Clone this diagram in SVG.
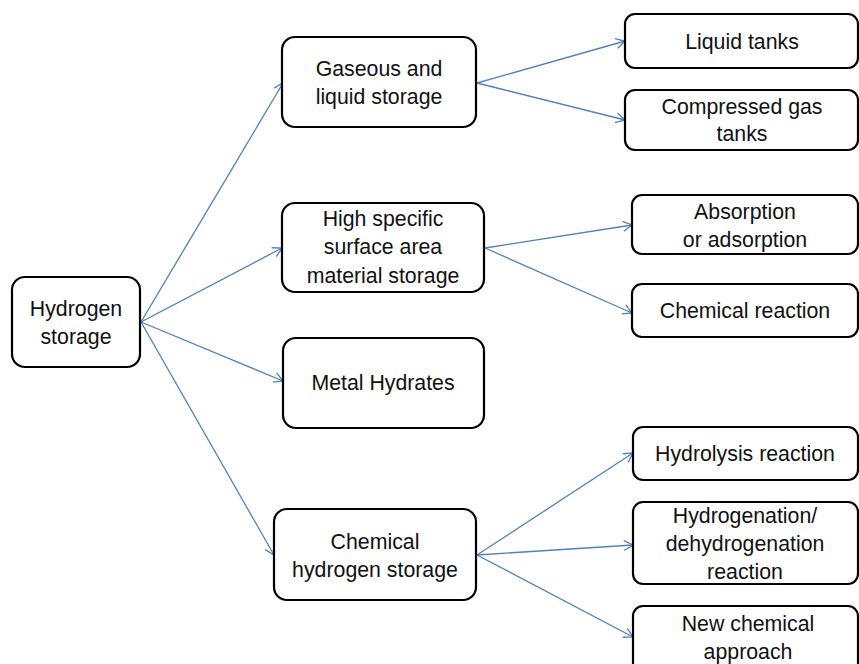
<svg xmlns="http://www.w3.org/2000/svg" width="859" height="664" viewBox="0 0 859 664">
<defs>
<marker id="ah" markerWidth="12" markerHeight="12" refX="10" refY="6" orient="auto" markerUnits="userSpaceOnUse">
<path d="M1,1 L10,6 L1,11" fill="none" stroke="#4F81BD" stroke-width="1.3"/>
</marker>
<style>
.box{fill:#fff;stroke:#000;stroke-width:2.2}
.t{font-family:"Liberation Sans",Arial,sans-serif;font-size:21.3px;fill:#111;text-anchor:middle}
.c{fill:none;stroke:#4F81BD;stroke-width:1.3;marker-end:url(#ah)}
</style>
</defs>
<rect width="859" height="664" fill="#fff"/>
<g id="connectors">
<line class="c" x1="141" y1="322" x2="283" y2="83"/>
<line class="c" x1="141" y1="322" x2="282" y2="248"/>
<line class="c" x1="141" y1="322" x2="283" y2="381"/>
<line class="c" x1="141" y1="322" x2="274" y2="555"/>
<line class="c" x1="477" y1="83" x2="625" y2="41"/>
<line class="c" x1="477" y1="83" x2="625" y2="120"/>
<line class="c" x1="485" y1="248" x2="632" y2="225"/>
<line class="c" x1="485" y1="248" x2="632" y2="313"/>
<line class="c" x1="477" y1="555" x2="633" y2="453"/>
<line class="c" x1="477" y1="555" x2="633" y2="545"/>
<line class="c" x1="477" y1="555" x2="633" y2="637"/>
</g>
<g id="hydrogen-storage">
<rect class="box" x="12" y="277" width="128" height="90" rx="13"/>
<text class="t" x="76" y="316">Hydrogen</text>
<text class="t" x="76" y="344">storage</text>
</g>
<g id="gaseous-liquid">
<rect class="box" x="282" y="37" width="194" height="90" rx="13"/>
<text class="t" x="379" y="76">Gaseous and</text>
<text class="t" x="379" y="104">liquid storage</text>
</g>
<g id="liquid-tanks">
<rect class="box" x="625" y="14" width="233" height="54" rx="10"/>
<text class="t" x="742" y="49">Liquid tanks</text>
</g>
<g id="compressed-gas">
<rect class="box" x="625" y="90" width="233" height="60" rx="10"/>
<text class="t" x="742" y="114">Compressed gas</text>
<text class="t" x="742" y="141">tanks</text>
</g>
<g id="high-specific">
<rect class="box" x="282" y="203" width="202" height="89" rx="13"/>
<text class="t" x="383" y="226">High specific</text>
<text class="t" x="383" y="254">surface area</text>
<text class="t" x="383" y="283">material storage</text>
</g>
<g id="absorption">
<rect class="box" x="632" y="195" width="226" height="59" rx="10"/>
<text class="t" x="745" y="219">Absorption</text>
<text class="t" x="745" y="247">or adsorption</text>
</g>
<g id="chemical-reaction">
<rect class="box" x="632" y="284" width="226" height="53" rx="10"/>
<text class="t" x="745" y="318">Chemical reaction</text>
</g>
<g id="metal-hydrates">
<rect class="box" x="283" y="338" width="201" height="90" rx="13"/>
<text class="t" x="383" y="390">Metal Hydrates</text>
</g>
<g id="chemical-hydrogen-storage">
<rect class="box" x="274" y="509" width="202" height="91" rx="13"/>
<text class="t" x="375" y="549">Chemical</text>
<text class="t" x="375" y="577">hydrogen storage</text>
</g>
<g id="hydrolysis">
<rect class="box" x="633" y="427" width="225" height="53" rx="10"/>
<text class="t" x="745" y="461">Hydrolysis reaction</text>
</g>
<g id="hydrogenation">
<rect class="box" x="633" y="502" width="225" height="82" rx="10"/>
<text class="t" x="745" y="523">Hydrogenation/</text>
<text class="t" x="745" y="551">dehydrogenation</text>
<text class="t" x="745" y="579">reaction</text>
</g>
<g id="new-chemical">
<rect class="box" x="633" y="606" width="225" height="74" rx="10"/>
<text class="t" x="748" y="631">New chemical</text>
<text class="t" x="748" y="659">approach</text>
</g>
</svg>
